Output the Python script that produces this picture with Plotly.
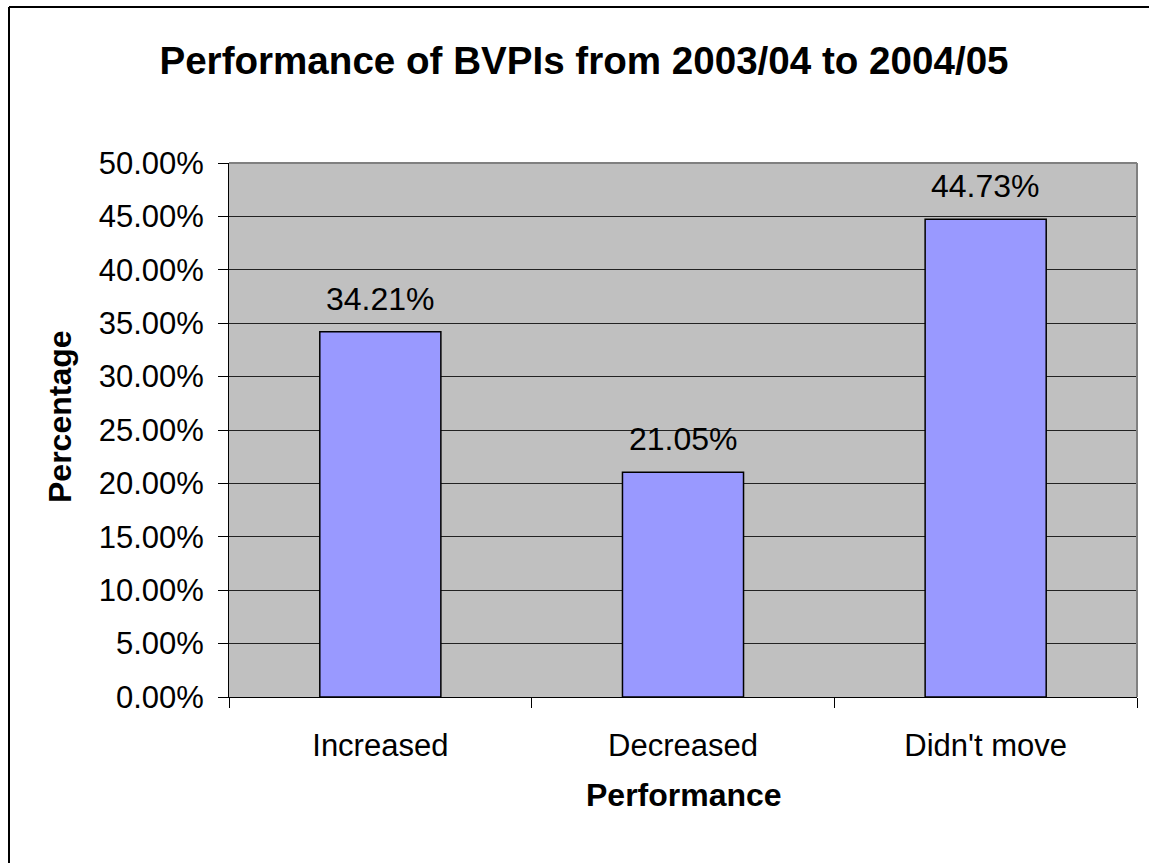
import plotly.graph_objects as go

categories = ["Increased", "Decreased", "Didn't move"]
values = [0.3421, 0.2105, 0.4473]
value_labels = ["34.21%", "21.05%", "44.73%"]
chart_title = "Performance of BVPIs from 2003/04 to 2004/05"
x_title = "Performance"
y_title = "Percentage"

W, H = 1149, 863
L, R, T, B = 229, 1137, 163, 697
pw, ph = R - L, B - T

def px_x(x):
    return (x - L) / pw

def px_y(y):
    return (B - y) / ph

FONT = "Liberation Sans, Arial, sans-serif"

fig = go.Figure()
fig.add_trace(go.Bar(
    x=categories, y=values, width=0.4,
    marker=dict(color="#9999FF", line=dict(color="#000000", width=1.5)),
    hoverinfo="skip",
))

annotations = []
for c, v, t in zip(categories, values, value_labels):
    annotations.append(dict(x=c, y=v, xref="x", yref="y", text=t, showarrow=False,
                            yanchor="middle", yshift=33,
                            font=dict(family=FONT, size=32, color="#000000")))
annotations.append(dict(x=px_x(60), y=px_y(417), xref="paper", yref="paper", text="<b>%s</b>" % y_title,
                        showarrow=False, textangle=-90, xanchor="center", yanchor="middle",
                        font=dict(family=FONT, size=32, color="#000000")))
annotations.append(dict(x=px_x(683.5), y=px_y(795), xref="paper", yref="paper", text="<b>%s</b>" % x_title,
                        showarrow=False, xanchor="center", yanchor="middle",
                        font=dict(family=FONT, size=32, color="#000000")))

shapes = [
    # outer chart border (left & top visible)
    dict(type="line", xref="paper", yref="paper", x0=px_x(9), x1=px_x(9), y0=px_y(7), y1=px_y(880),
         line=dict(color="#000000", width=2)),
    dict(type="line", xref="paper", yref="paper", x0=px_x(9), x1=px_x(1160), y0=px_y(7), y1=px_y(7),
         line=dict(color="#000000", width=2)),
    # plot area border top & right (gray)
    dict(type="line", xref="paper", yref="paper", x0=0, x1=1, y0=1, y1=1,
         line=dict(color="#808080", width=2)),
    dict(type="line", xref="paper", yref="paper", x0=1, x1=1, y0=0, y1=1,
         line=dict(color="#808080", width=2)),
]

fig.update_layout(
    width=W, height=H,
    margin=dict(l=L, r=W - R, t=T, b=H - B, autoexpand=False),
    paper_bgcolor="#FFFFFF",
    plot_bgcolor="#C0C0C0",
    showlegend=False,
    bargap=0.6,
    title=dict(text="<b>%s</b>" % chart_title, x=584 / W, xref="container", xanchor="center",
               y=1 - 60.5 / H, yref="container", yanchor="middle",
               font=dict(family=FONT, size=38.6, color="#000000")),
    annotations=annotations,
    shapes=shapes,
)
fig.update_xaxes(
    showline=True, linecolor="#000000", linewidth=1,
    ticks="outside", ticklen=10, tickcolor="#000000", tickson="boundaries",
    showgrid=False, tickfont=dict(family=FONT, size=31, color="#000000"),
    ticklabelstandoff=21,
    automargin=False,
)
fig.update_yaxes(
    range=[0, 0.5], dtick=0.05, tickformat=".2%",
    showline=True, linecolor="#000000", linewidth=1,
    ticks="outside", ticklen=10, tickcolor="#000000",
    showgrid=True, gridcolor="#222222", gridwidth=1,
    zeroline=False, ticklabelstandoff=8,
    tickfont=dict(family=FONT, size=31, color="#000000"),
    automargin=False,
)

fig.write_html("out.html", config={"displayModeBar": False},
               post_script="document.body.style.margin='0';document.body.style.overflow='hidden';")
